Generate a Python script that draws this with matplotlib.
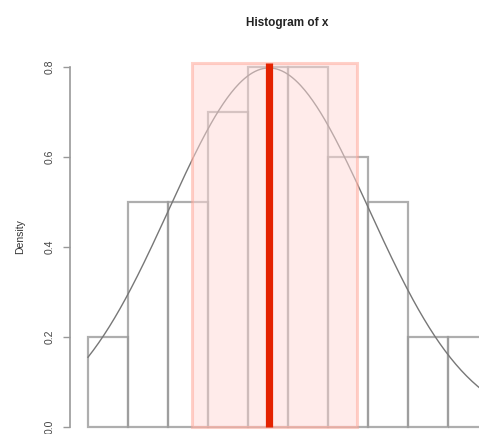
import numpy as np
import matplotlib
matplotlib.use("Agg")
import matplotlib.pyplot as plt
from matplotlib.patches import Rectangle

plt.rcParams['font.family'] = ['Liberation Sans', 'DejaVu Sans']

# histogram of x (density scale)
bin_edges = [-1.0, -0.8, -0.6, -0.4, -0.2, 0.0, 0.2, 0.4, 0.6, 0.8, 1.0]
densities = [0.2, 0.5, 0.5, 0.7, 0.8, 0.8, 0.6, 0.5, 0.2, 0.2]

# fitted normal curve
x_mean = -0.095
x_sd = 0.5

# shaded interval
band_lo = -0.48
band_hi = 0.345
band_top = 0.81

y_ticks = [0.0, 0.2, 0.4, 0.6, 0.8]

fig = plt.figure(figsize=(4.79, 4.34), dpi=100)
W, H = 479, 434
ax = fig.add_axes([70 / W, 0, (W - 70) / W, 394 / H])
ax.set_xlim(-1.09, 0.955)
ax.set_ylim(-7 / 450, 387 / 450)

# bars
lefts = bin_edges[:-1]
widths = np.diff(bin_edges)
ax.bar(lefts, densities, width=widths, align='edge', fill=False,
       edgecolor='#9a9a9a', lw=1.6, alpha=0.8, zorder=2)

# curve
xs = np.linspace(bin_edges[0], 1.0, 300)
ys = np.exp(-0.5 * ((xs - x_mean) / x_sd) ** 2) / (x_sd * np.sqrt(2 * np.pi))
ax.plot(xs, ys, color='#777777', lw=1.0, zorder=3)

# interval band, semi-transparent over the bars
ax.add_patch(Rectangle((band_lo, 0), band_hi - band_lo, band_top,
                       facecolor='#ffd9d7', edgecolor='#ffa595', lw=2.2,
                       alpha=0.5, zorder=3.5))

# mean line
ax.plot([x_mean, x_mean], [0, band_top], color='#e42200', lw=5.2,
        solid_capstyle='butt', zorder=4)

for s in ['top', 'right', 'bottom']:
    ax.spines[s].set_visible(False)
ax.spines['left'].set_bounds(0, 0.8)
ax.spines['left'].set_color('#999999')
ax.spines['left'].set_linewidth(1.2)
ax.set_xticks([])
ax.set_yticks(y_ticks)
ax.set_yticklabels(['0.0', '0.2', '0.4', '0.6', '0.8'], rotation=90, va='center',
                   fontsize=7.5, color='#444444')
ax.tick_params(axis='y', length=5, width=1.0, color='#999999', pad=6)
ax.set_ylabel('Density', fontsize=7.5, color='#333333', labelpad=14)
ax.patch.set_alpha(0)

fig.text(287 / W, 1 - 23 / H, 'Histogram of x', ha='center', va='center',
         fontsize=8.5, fontweight='bold', color='#222222')

fig.savefig('out.png', dpi=100)
